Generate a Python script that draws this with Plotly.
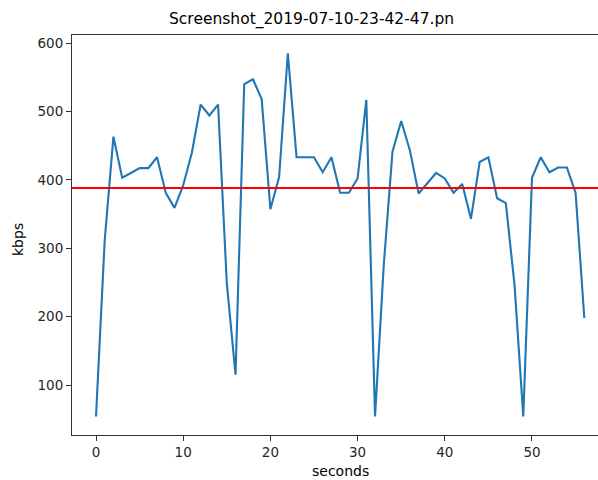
import plotly.graph_objects as go

seconds = list(range(57))
kbps = [54, 312, 463, 403, 410, 417, 417, 433, 381, 359,
        392, 440, 510, 494, 510, 249, 115, 540, 547, 518,
        357, 404, 585, 433, 433, 433, 411, 433, 381, 381,
        402, 517, 54, 275, 441, 486, 443, 380, 395, 410,
        402, 381, 394, 343, 426, 433, 373, 366, 246, 54,
        403, 433, 411, 418, 418, 381, 198]
mean_kbps = 388
title_text = "Screenshot_2019-07-10-23-42-47.pn"
x_ticks = [0, 10, 20, 30, 40, 50]
y_ticks = [100, 200, 300, 400, 500, 600]

FONT = "DejaVu Sans"
TXT = "#262626"

fig = go.Figure()
fig.add_trace(go.Scatter(x=seconds, y=kbps, mode="lines",
                         line=dict(color="#1f77b4", width=2.1),
                         showlegend=False, hoverinfo="skip"))
fig.add_shape(type="line", xref="paper", x0=0, x1=1, yref="y",
              y0=mean_kbps, y1=mean_kbps,
              line=dict(color="red", width=2.1), layer="above")

fig.update_layout(
    width=598, height=480,
    margin=dict(l=72, r=0, t=35, b=45),
    paper_bgcolor="white", plot_bgcolor="white",
    font=dict(family=FONT, size=13.5, color=TXT),
    showlegend=False,
    xaxis=dict(range=[-2.752, 57.57], tickvals=x_ticks,
               showgrid=False, zeroline=False,
               showline=True, linecolor="#333333", linewidth=1.1, mirror=True,
               ticks="outside", ticklen=5, tickwidth=1.1, tickcolor="#333333",
               tickfont=dict(family=FONT, size=13.5, color=TXT)),
    yaxis=dict(range=[26.9, 611.7], tickvals=y_ticks,
               showgrid=False, zeroline=False,
               showline=True, linecolor="#333333", linewidth=1.1, mirror=False,
               ticks="outside", ticklen=5, tickwidth=1.1, tickcolor="#333333",
               tickfont=dict(family=FONT, size=13.5, color=TXT)),
    annotations=[
        dict(text=title_text, xref="paper", yref="paper",
             x=(311 - 72) / 526, y=1 + 15 / 400, xanchor="center", yanchor="middle",
             showarrow=False, font=dict(family=FONT, size=15.5, color="black")),
        dict(text="seconds", xref="paper", yref="paper",
             x=(340 - 72) / 526, y=-36 / 400, xanchor="center", yanchor="middle",
             showarrow=False, font=dict(family=FONT, size=14, color="black")),
        dict(text="kbps", xref="paper", yref="paper",
             x=-54 / 526, y=(435 - 240) / 400, xanchor="center", yanchor="middle",
             textangle=-90, showarrow=False,
             font=dict(family=FONT, size=14, color="black")),
    ],
)

fig.write_html("out.html", config={"displayModeBar": False},
               post_script="document.body.style.margin='0';document.body.style.overflow='hidden';")
